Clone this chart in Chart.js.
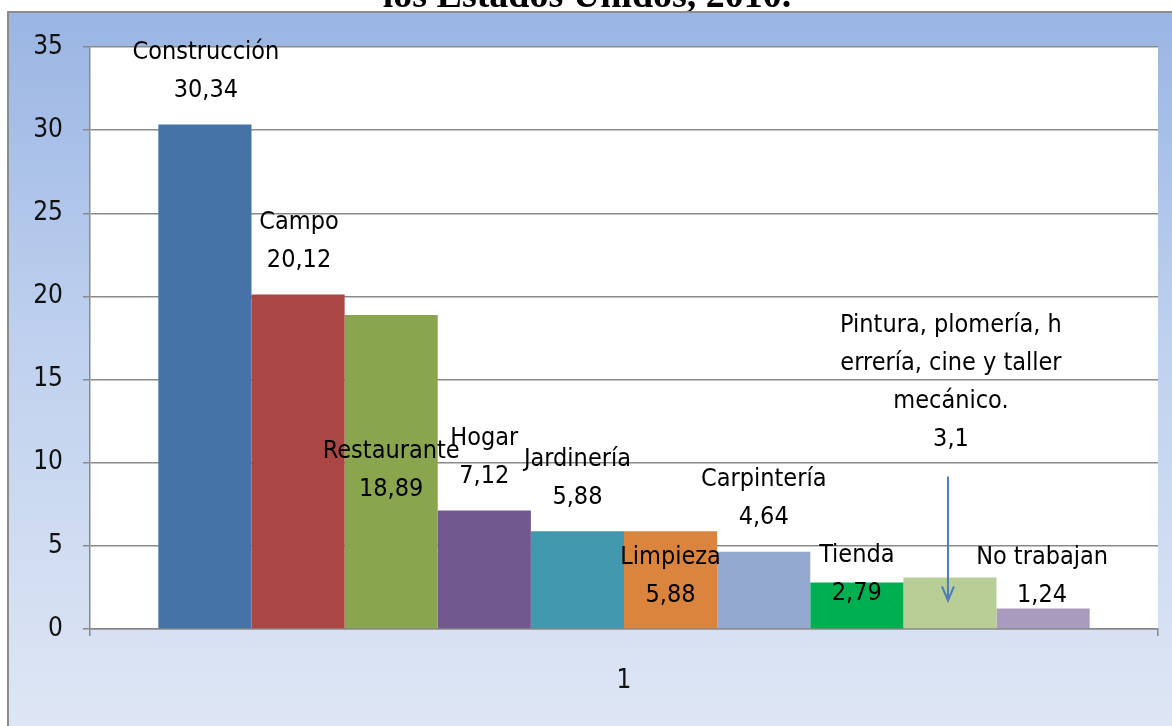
<!DOCTYPE html>
<html>
<head>
<meta charset="utf-8">
<script src="https://cdn.jsdelivr.net/npm/chart.js@4"></script>
<style>
  html, body { margin: 0; padding: 0; background: #fff; }
  #wrap { width: 1172px; height: 726px; position: relative; }
</style>
</head>
<body>
<div id="wrap"><canvas id="ocupacion" width="1172" height="726"></canvas></div>
<script>
// data
const categoryLabels = ['1'];
const occupations = ['Construcción', 'Campo', 'Restaurante', 'Hogar', 'Jardinería',
  'Limpieza', 'Carpintería', 'Tienda', 'Pintura, plomería, herrería, cine y taller mecánico.', 'No trabajan'];
const shares = [30.34, 20.12, 18.89, 7.12, 5.88, 5.88, 4.64, 2.79, 3.1, 1.24];
const valueText = ['30,34', '20,12', '18,89', '7,12', '5,88', '5,88', '4,64', '2,79', '3,1', '1,24'];
const yTicks = [0, 5, 10, 15, 20, 25, 30, 35];
const titleText = 'los Estados Unidos, 2010.';

const barColors = ['#4572A7', '#AA4643', '#89A54E', '#71588F', '#4198AF',
  '#DB843D', '#93A9CF', '#00B050', '#B9CD96', '#A99BBD'];

// label layout as Excel left it (some labels were dragged by hand)
const FONT = '"Liberation Sans Narrow", "DejaVu Sans Condensed", sans-serif';
const LINE_H = 38;
const labelLines = {
  8: ['Pintura, plomería, h', 'errería, cine y taller', 'mecánico.']
};
const labelShift = { 2: 209, 5: 98, 7: 45, 8: -104, 9: 21 }; // px, relative to default spot
const labelDx = { 0: 1, 1: 1, 8: 1, 9: -1 };

// frame, gradient and the clipped title behind the chart
const framePlugin = {
  id: 'frame',
  beforeDraw(chart) {
    const ctx = chart.ctx;
    ctx.save();
    ctx.fillStyle = '#ffffff';
    ctx.fillRect(0, 0, chart.width, chart.height);
    ctx.font = 'bold 38px "Liberation Serif", serif';
    ctx.fillStyle = '#000';
    ctx.textAlign = 'center';
    ctx.textBaseline = 'alphabetic';
    ctx.fillText(titleText, 587, 7);
    const g = ctx.createLinearGradient(0, 12, 0, chart.height);
    g.addColorStop(0, '#9AB5E3');
    g.addColorStop(0.45, '#BED0EE');
    g.addColorStop(1, '#DEE6F4');
    ctx.fillStyle = g;
    ctx.fillRect(8, 12, chart.width, chart.height);
    ctx.strokeStyle = '#8C8C8C';
    ctx.lineWidth = 2;
    ctx.beginPath();
    ctx.moveTo(8, chart.height + 2);
    ctx.lineTo(8, 12);
    ctx.lineTo(chart.width + 2, 12);
    ctx.stroke();
    const a = chart.chartArea;
    ctx.fillStyle = '#ffffff';
    ctx.fillRect(a.left, a.top, a.right - a.left, a.bottom - a.top);
    ctx.restore();
  }
};

const barLabelPlugin = {
  id: 'barLabels',
  afterDatasetsDraw(chart) {
    const ctx = chart.ctx;
    ctx.save();
    ctx.font = '25px ' + FONT;
    ctx.fillStyle = '#000';
    ctx.textAlign = 'center';
    ctx.textBaseline = 'middle';
    chart.data.datasets.forEach((ds, i) => {
      const bar = chart.getDatasetMeta(i).data[0];
      const x = bar.x + (labelDx[i] || 0);
      const yVal = bar.y - 34 + (labelShift[i] || 0);
      const lines = (labelLines[i] || [occupations[i]]).concat([valueText[i]]);
      lines.forEach((t, k) => {
        ctx.fillText(t, x, yVal - (lines.length - 1 - k) * LINE_H);
      });
      if (i === 8) {
        // arrow pointing down into the bar
        const ax = bar.x - 2, y0 = yVal + 37, y1 = bar.y + 23;
        ctx.strokeStyle = '#4A7EBB';
        ctx.lineWidth = 2;
        ctx.beginPath();
        ctx.moveTo(ax, y0);
        ctx.lineTo(ax, y1);
        ctx.moveTo(ax - 6, y1 - 14);
        ctx.lineTo(ax, y1);
        ctx.lineTo(ax + 6, y1 - 14);
        ctx.stroke();
      }
    });
    ctx.restore();
  }
};

new Chart('ocupacion', {
  type: 'bar',
  data: {
    labels: categoryLabels,
    datasets: shares.map((v, i) => ({
      label: occupations[i],
      data: [v],
      backgroundColor: barColors[i],
      borderWidth: 0,
      barPercentage: 1,
      categoryPercentage: 0.872
    }))
  },
  options: {
    responsive: false,
    animation: false,
    layout: { padding: { top: 47, right: 14, left: 0, bottom: 0 } },
    plugins: {
      legend: { display: false },
      tooltip: { enabled: false }
    },
    scales: {
      x: {
        afterFit(scale) { scale.height = 97; },
        grid: { offset: true, drawOnChartArea: false, tickLength: 7, color: '#888', lineWidth: 1.5 },
        border: { color: '#888', width: 1.5 },
        ticks: { padding: 30, color: '#111', font: { family: FONT, size: 26 } }
      },
      y: {
        min: 0,
        max: 35,
        afterFit(scale) { scale.width = 90; },
        afterBuildTicks(scale) { scale.ticks = yTicks.map(v => ({ value: v })); },
        grid: { color: '#8A8A8A', lineWidth: 1.5, tickLength: 7 },
        border: { color: '#8A8A8A', width: 1.5 },
        ticks: { padding: 20, color: '#111', font: { family: FONT, size: 26 } }
      }
    }
  },
  plugins: [framePlugin, barLabelPlugin]
});
</script>
</body>
</html>
